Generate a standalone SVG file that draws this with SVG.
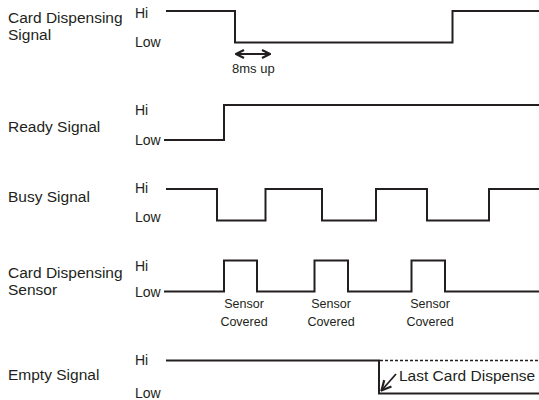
<svg xmlns="http://www.w3.org/2000/svg" width="539" height="400" viewBox="0 0 539 400">
<style>
text{font-family:"Liberation Sans",Arial,sans-serif;fill:#231f20}
.lbl{font-size:15.5px}
.lv{font-size:14px}
.sm{font-size:12.5px;text-anchor:middle}
.sig{fill:none;stroke:#231f20;stroke-width:2}
.dash{fill:none;stroke:#231f20;stroke-width:1.5;stroke-dasharray:3,2}
</style>
<defs>
<marker id="ah" viewBox="0 0 10 10" refX="9" refY="5" markerWidth="10" markerHeight="12" orient="auto-start-reverse" markerUnits="userSpaceOnUse">
<path d="M1,1 L9,5 L1,9" fill="none" stroke="#231f20" stroke-width="2.2"/>
</marker>
<marker id="ah2" viewBox="0 0 10 10" refX="9" refY="5" markerWidth="12" markerHeight="12" orient="auto" markerUnits="userSpaceOnUse">
<path d="M1,1 L9,5 L1,9" fill="none" stroke="#231f20" stroke-width="1.8"/>
</marker>
</defs>

<g id="card-dispensing-signal">
<text class="lbl" x="8" y="23">Card Dispensing</text>
<text class="lbl" x="8" y="40">Signal</text>
<text class="lv" x="135" y="18">Hi</text>
<text class="lv" x="135" y="47">Low</text>
</g>
<g id="ready-signal">
<text class="lbl" x="8" y="132">Ready Signal</text>
<text class="lv" x="135" y="115">Hi</text>
<text class="lv" x="135" y="145">Low</text>
</g>
<g id="busy-signal">
<text class="lbl" x="8" y="202">Busy Signal</text>
<text class="lv" x="135" y="193">Hi</text>
<text class="lv" x="135" y="222">Low</text>
</g>
<g id="card-dispensing-sensor">
<text class="lbl" x="8" y="278">Card Dispensing</text>
<text class="lbl" x="8" y="295">Sensor</text>
<text class="lv" x="135" y="271">Hi</text>
<text class="lv" x="135" y="297">Low</text>
<text class="sm" x="244" y="308">Sensor</text>
<text class="sm" x="244" y="326">Covered</text>
<text class="sm" x="331" y="308">Sensor</text>
<text class="sm" x="331" y="326">Covered</text>
<text class="sm" x="430" y="308">Sensor</text>
<text class="sm" x="430" y="326">Covered</text>
</g>
<g id="empty-signal">
<text class="lbl" x="8" y="380">Empty Signal</text>
<text class="lv" x="135" y="365">Hi</text>
<text class="lv" x="135" y="398">Low</text>
<text x="399" y="381" style="font-size:15.5px">Last Card Dispense</text>
</g>
<g id="annotation-8ms">
<text x="232" y="73" style="font-size:13px">8ms up</text>
</g>

<g id="connectors">
<path class="sig" d="M166,11 H235 V42.5 H452.5 V11 H539"/>
<line x1="236" y1="54" x2="270" y2="54" stroke="#231f20" stroke-width="2.2" marker-start="url(#ah)" marker-end="url(#ah)"/>
<path class="sig" d="M164,140 H224 V105 H539"/>
<path class="sig" d="M166,189 H217 V220.5 H265.5 V189 H322 V220.5 H376 V189 H427 V220.5 H489 V189 H539"/>
<path class="sig" d="M164,291.5 H224 V260.5 H257 V291.5 H314.5 V260.5 H348 V291.5 H411.5 V260.5 H445 V291.5 H539"/>
<path class="sig" d="M166,360.5 H379 V393.5 H539"/>
<path class="dash" d="M380,360.5 H539"/>
<line x1="396" y1="374" x2="381.5" y2="390.5" stroke="#231f20" stroke-width="1.8" marker-end="url(#ah2)"/>
</g>
</svg>
